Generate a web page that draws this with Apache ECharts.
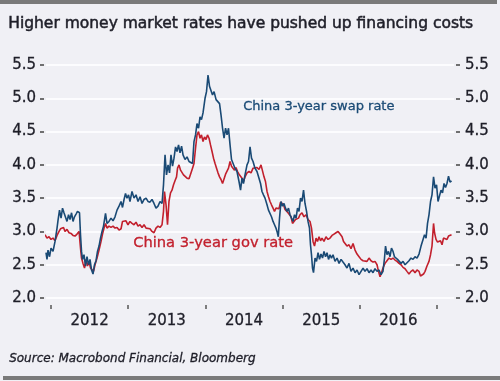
<!DOCTYPE html>
<html>
<head>
<meta charset="utf-8">
<script src="https://cdn.jsdelivr.net/npm/echarts@6/dist/echarts.min.js"></script>
<style>
html,body{margin:0;padding:0;background:#ffffff;}
#chart{width:500px;height:381px;}
</style>
</head>
<body>
<div id="chart"></div>
<script>
// ---- Data (time in decimal years, values in %) ----
const yearTicks = [2012, 2013, 2014, 2015, 2016, 2017];
const yearLabels = [2012.5, 2013.5, 2014.5, 2015.5, 2016.5];

const swapRate = [
[2011.935,2.68],[2011.948,2.58],[2011.961,2.72],[2011.981,2.62],[2012.000,2.75],[2012.026,2.70],[2012.052,2.85],[2012.078,3.05],[2012.091,3.17],[2012.110,3.32],[2012.130,3.20],[2012.149,3.35],[2012.168,3.28],[2012.188,3.30],[2012.207,3.15],[2012.227,3.25],[2012.246,3.18],[2012.266,3.28],[2012.285,3.15],[2012.304,3.22],[2012.324,3.26],[2012.343,3.30],[2012.369,3.28],[2012.382,2.95],[2012.395,2.70],[2012.408,2.58],[2012.427,2.65],[2012.447,2.48],[2012.466,2.62],[2012.486,2.50],[2012.505,2.58],[2012.525,2.42],[2012.544,2.36],[2012.563,2.50],[2012.583,2.56],[2012.602,2.70],[2012.622,2.78],[2012.641,2.90],[2012.661,3.00],[2012.680,3.08],[2012.706,3.27],[2012.725,3.12],[2012.751,3.15],[2012.777,3.20],[2012.803,3.16],[2012.829,3.22],[2012.855,3.32],[2012.881,3.38],[2012.907,3.45],[2012.926,3.36],[2012.946,3.48],[2012.965,3.57],[2012.984,3.50],[2013.004,3.55],[2013.023,3.45],[2013.049,3.60],[2013.075,3.50],[2013.101,3.55],[2013.127,3.45],[2013.153,3.52],[2013.179,3.42],[2013.205,3.48],[2013.231,3.50],[2013.256,3.45],[2013.282,3.44],[2013.308,3.48],[2013.334,3.42],[2013.360,3.35],[2013.386,3.38],[2013.412,3.45],[2013.438,3.42],[2013.457,3.70],[2013.477,4.15],[2013.496,3.85],[2013.516,4.00],[2013.535,3.88],[2013.554,4.15],[2013.574,3.98],[2013.593,4.10],[2013.613,4.27],[2013.632,4.20],[2013.652,4.30],[2013.671,4.18],[2013.691,4.28],[2013.710,4.15],[2013.736,4.08],[2013.762,4.12],[2013.788,4.05],[2013.813,4.08],[2013.833,4.02],[2013.852,4.35],[2013.872,4.45],[2013.891,4.62],[2013.911,4.55],[2013.930,4.72],[2013.949,4.68],[2013.969,4.78],[2013.995,5.00],[2014.014,5.10],[2014.034,5.35],[2014.053,5.18],[2014.073,5.20],[2014.092,5.05],[2014.112,5.10],[2014.138,4.98],[2014.163,5.00],[2014.183,4.92],[2014.202,4.75],[2014.222,4.55],[2014.241,4.40],[2014.261,4.55],[2014.280,4.45],[2014.299,4.55],[2014.319,4.30],[2014.338,4.08],[2014.358,4.05],[2014.383,3.95],[2014.409,3.90],[2014.435,3.75],[2014.455,3.62],[2014.474,3.80],[2014.493,3.72],[2014.513,3.85],[2014.539,4.00],[2014.558,4.05],[2014.578,4.27],[2014.597,4.10],[2014.617,4.05],[2014.642,3.95],[2014.668,3.90],[2014.694,3.80],[2014.714,3.72],[2014.733,3.60],[2014.752,3.55],[2014.772,3.50],[2014.798,3.40],[2014.817,3.32],[2014.837,3.30],[2014.856,3.22],[2014.876,3.15],[2014.895,3.10],[2014.914,3.05],[2014.927,3.00],[2014.944,2.92],[2014.960,3.20],[2014.979,3.45],[2014.999,3.38],[2015.018,3.42],[2015.037,3.35],[2015.057,3.30],[2015.076,3.35],[2015.096,3.25],[2015.115,3.20],[2015.135,3.15],[2015.154,3.25],[2015.174,3.20],[2015.193,3.35],[2015.212,3.30],[2015.232,3.50],[2015.251,3.45],[2015.271,3.62],[2015.290,3.42],[2015.310,3.30],[2015.329,3.15],[2015.348,3.05],[2015.361,2.80],[2015.374,2.65],[2015.387,2.45],[2015.400,2.38],[2015.420,2.60],[2015.439,2.55],[2015.459,2.68],[2015.478,2.58],[2015.497,2.66],[2015.517,2.60],[2015.536,2.70],[2015.556,2.62],[2015.575,2.68],[2015.595,2.58],[2015.614,2.65],[2015.633,2.60],[2015.653,2.65],[2015.679,2.55],[2015.705,2.60],[2015.731,2.52],[2015.757,2.58],[2015.782,2.54],[2015.808,2.50],[2015.834,2.45],[2015.860,2.52],[2015.886,2.40],[2015.912,2.45],[2015.938,2.38],[2015.964,2.42],[2015.990,2.35],[2016.016,2.40],[2016.042,2.45],[2016.067,2.40],[2016.093,2.44],[2016.119,2.38],[2016.145,2.42],[2016.171,2.38],[2016.197,2.44],[2016.223,2.40],[2016.249,2.42],[2016.275,2.35],[2016.300,2.40],[2016.320,2.60],[2016.333,2.78],[2016.352,2.65],[2016.371,2.70],[2016.391,2.62],[2016.410,2.75],[2016.430,2.70],[2016.449,2.62],[2016.469,2.65],[2016.488,2.58],[2016.508,2.55],[2016.534,2.52],[2016.560,2.55],[2016.586,2.50],[2016.611,2.52],[2016.637,2.56],[2016.663,2.60],[2016.689,2.58],[2016.715,2.62],[2016.741,2.60],[2016.767,2.66],[2016.793,2.78],[2016.819,2.88],[2016.838,2.95],[2016.858,2.90],[2016.877,3.12],[2016.896,3.25],[2016.916,3.45],[2016.935,3.55],[2016.955,3.82],[2016.974,3.65],[2016.994,3.70],[2017.013,3.45],[2017.032,3.48],[2017.052,3.62],[2017.071,3.58],[2017.091,3.72],[2017.110,3.66],[2017.129,3.72],[2017.149,3.83],[2017.168,3.74],[2017.188,3.76]
];

const govRate = [
[2011.922,2.95],[2011.948,2.90],[2011.974,2.92],[2012.000,2.88],[2012.026,2.90],[2012.052,2.86],[2012.078,2.94],[2012.104,3.00],[2012.123,3.04],[2012.142,3.02],[2012.162,3.06],[2012.181,3.00],[2012.207,3.03],[2012.233,2.98],[2012.259,2.97],[2012.285,2.94],[2012.311,2.93],[2012.337,2.96],[2012.363,3.00],[2012.382,2.75],[2012.395,2.60],[2012.414,2.52],[2012.434,2.45],[2012.453,2.58],[2012.473,2.48],[2012.492,2.55],[2012.512,2.45],[2012.531,2.42],[2012.551,2.40],[2012.570,2.50],[2012.596,2.60],[2012.622,2.72],[2012.648,2.85],[2012.667,2.96],[2012.687,3.05],[2012.706,3.12],[2012.725,3.05],[2012.751,3.08],[2012.777,3.06],[2012.803,3.08],[2012.829,3.05],[2012.855,3.06],[2012.881,3.02],[2012.907,3.04],[2012.926,3.15],[2012.946,3.12],[2012.971,3.16],[2012.997,3.10],[2013.023,3.15],[2013.049,3.12],[2013.075,3.10],[2013.101,3.14],[2013.127,3.08],[2013.153,3.10],[2013.179,3.06],[2013.205,3.10],[2013.231,3.05],[2013.256,3.08],[2013.282,3.04],[2013.308,3.00],[2013.334,2.98],[2013.360,3.05],[2013.386,3.08],[2013.412,3.06],[2013.438,3.10],[2013.457,3.30],[2013.470,3.60],[2013.490,3.40],[2013.509,3.10],[2013.528,3.45],[2013.548,3.58],[2013.567,3.62],[2013.587,3.70],[2013.606,3.76],[2013.626,3.82],[2013.639,3.95],[2013.658,4.00],[2013.678,3.92],[2013.697,3.90],[2013.716,3.85],[2013.736,3.82],[2013.762,3.80],[2013.788,3.79],[2013.813,3.80],[2013.833,3.95],[2013.852,4.02],[2013.872,4.25],[2013.891,4.45],[2013.911,4.50],[2013.930,4.40],[2013.949,4.45],[2013.969,4.35],[2013.988,4.42],[2014.008,4.38],[2014.027,4.45],[2014.047,4.40],[2014.066,4.30],[2014.086,4.20],[2014.105,4.10],[2014.125,4.02],[2014.144,3.95],[2014.163,3.88],[2014.183,3.82],[2014.202,3.78],[2014.222,3.72],[2014.241,3.75],[2014.261,3.86],[2014.280,3.83],[2014.299,3.95],[2014.319,4.05],[2014.338,3.98],[2014.358,4.00],[2014.377,3.92],[2014.396,3.96],[2014.416,3.90],[2014.435,3.86],[2014.455,3.85],[2014.474,3.80],[2014.493,3.75],[2014.513,3.82],[2014.539,3.88],[2014.565,3.90],[2014.591,3.88],[2014.617,3.95],[2014.642,3.92],[2014.668,3.96],[2014.694,3.93],[2014.720,4.00],[2014.739,3.98],[2014.759,3.82],[2014.778,3.75],[2014.798,3.60],[2014.817,3.52],[2014.837,3.45],[2014.856,3.40],[2014.876,3.35],[2014.895,3.30],[2014.914,3.35],[2014.934,3.38],[2014.953,3.34],[2014.973,3.44],[2014.992,3.46],[2015.012,3.40],[2015.031,3.33],[2015.050,3.35],[2015.070,3.28],[2015.089,3.30],[2015.109,3.22],[2015.128,3.12],[2015.148,3.10],[2015.167,3.18],[2015.187,3.15],[2015.206,3.20],[2015.225,3.25],[2015.251,3.28],[2015.277,3.22],[2015.303,3.25],[2015.329,3.18],[2015.355,3.15],[2015.374,3.05],[2015.394,2.85],[2015.413,2.78],[2015.433,2.90],[2015.452,2.85],[2015.472,2.92],[2015.491,2.86],[2015.510,2.90],[2015.536,2.85],[2015.562,2.92],[2015.588,2.88],[2015.614,2.90],[2015.640,2.94],[2015.666,2.96],[2015.692,2.98],[2015.718,3.00],[2015.744,2.96],[2015.770,2.92],[2015.789,2.85],[2015.808,2.82],[2015.834,2.78],[2015.860,2.80],[2015.886,2.74],[2015.912,2.82],[2015.938,2.72],[2015.964,2.66],[2015.990,2.62],[2016.016,2.58],[2016.042,2.56],[2016.067,2.58],[2016.093,2.55],[2016.119,2.60],[2016.145,2.56],[2016.171,2.54],[2016.197,2.55],[2016.223,2.50],[2016.242,2.40],[2016.262,2.32],[2016.281,2.38],[2016.300,2.45],[2016.326,2.52],[2016.352,2.56],[2016.378,2.60],[2016.404,2.58],[2016.430,2.60],[2016.456,2.57],[2016.482,2.55],[2016.508,2.52],[2016.534,2.50],[2016.560,2.46],[2016.586,2.44],[2016.611,2.40],[2016.637,2.36],[2016.663,2.40],[2016.689,2.42],[2016.715,2.38],[2016.741,2.42],[2016.767,2.40],[2016.786,2.33],[2016.806,2.30],[2016.825,2.36],[2016.845,2.40],[2016.870,2.48],[2016.896,2.55],[2016.916,2.65],[2016.935,2.78],[2016.955,3.12],[2016.968,2.98],[2016.987,2.88],[2017.007,2.84],[2017.026,2.82],[2017.045,2.86],[2017.065,2.80],[2017.084,2.90],[2017.104,2.92],[2017.129,2.88],[2017.149,2.93],[2017.168,2.92],[2017.188,2.95]
];

const titleText = 'Higher money market rates have pushed up financing costs';
const sourceText = 'Source: Macrobond Financial, Bloomberg';
const swapName = 'China 3-year swap rate';
const govName = 'China 3-year gov rate';

// ---- Styling ----
const FONT = '"DejaVu Sans"';
const BLUE = '#1a4a75';
const RED = '#c2202d';
const TEXT = '#1e1e28';

const chart = echarts.init(document.getElementById('chart'), null, {renderer: 'canvas'});

const yLabel = {color: TEXT, fontFamily: FONT, fontSize: 15, textBorderColor: TEXT, textBorderWidth: 0.3, formatter: v => v.toFixed(1)};
const yAxisCommon = {
  type: 'value', min: 2, max: 5.5, interval: 0.5,
  axisLine: {show: false},
  axisTick: {show: true, length: 4, lineStyle: {color: '#444', width: 1.5}},
  splitLine: {show: true, lineStyle: {color: '#fcfcfe', width: 2}}
};

chart.setOption({
  animation: false,
  backgroundColor: '#ffffff',
  graphic: [
    {type: 'rect', shape: {x: 0, y: 0, width: 500, height: 381}, style: {fill: '#f0f0f5'}, z: -10, silent: true},
    {type: 'rect', shape: {x: 0, y: 0, width: 497, height: 4}, style: {fill: '#7a7a7a'}, z: -9, silent: true},
    {type: 'rect', shape: {x: 3, y: 376, width: 497, height: 4}, style: {fill: '#7a7a7a'}, z: -9, silent: true},
    {type: 'text', left: 8, top: 16, z: 10, style: {text: titleText, fill: TEXT, stroke: TEXT, lineWidth: 0.5, font: '15.5px ' + FONT}},
    {type: 'text', left: 9, top: 353, z: 10, style: {text: sourceText, fill: TEXT, stroke: TEXT, lineWidth: 0.3, font: 'italic 12px ' + FONT}},
    {type: 'text', left: 243, top: 100, z: 10, style: {text: swapName, fill: BLUE, stroke: BLUE, lineWidth: 0.3, font: '13px ' + FONT}},
    {type: 'text', left: 133, top: 236, z: 10, style: {text: govName, fill: RED, stroke: RED, lineWidth: 0.3, font: '14.7px ' + FONT}}
  ],
  grid: {left: 46, right: 46, top: 65, bottom: 83, containLabel: false},
  xAxis: {
    type: 'value', min: 2011.935, max: 2017.22, offset: 7,
    axisLine: {show: false},
    splitLine: {show: false},
    axisTick: {show: true, length: 4, lineStyle: {color: '#555', width: 1.5}, customValues: yearTicks},
    axisLabel: {show: true, color: TEXT, fontFamily: FONT, fontSize: 15, margin: 9, textBorderColor: TEXT, textBorderWidth: 0.3,
      customValues: yearLabels, formatter: v => String(Math.floor(v))}
  },
  yAxis: [
    Object.assign({}, yAxisCommon, {position: 'left', offset: 2, axisLabel: Object.assign({}, yLabel, {margin: 8})}),
    Object.assign({}, yAxisCommon, {position: 'right', offset: 2, splitLine: {show: false}, axisLabel: Object.assign({}, yLabel, {margin: 9})})
  ],
  series: [
    {name: govName, type: 'line', data: govRate, showSymbol: false, symbol: 'none',
      lineStyle: {color: RED, width: 1.6}, z: 2},
    {name: swapName, type: 'line', data: swapRate, showSymbol: false, symbol: 'none',
      lineStyle: {color: BLUE, width: 1.6}, z: 3}
  ]
});
</script>
</body>
</html>
